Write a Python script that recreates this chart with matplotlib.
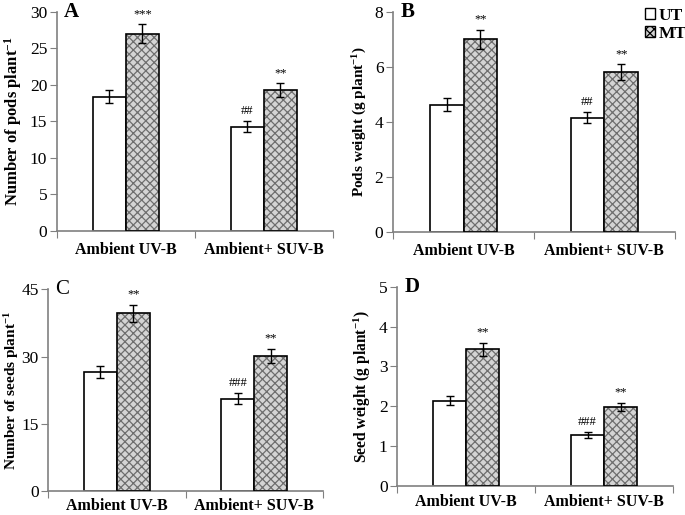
import matplotlib
matplotlib.use("Agg")
import matplotlib.pyplot as plt
import numpy as np
from matplotlib.patches import Patch

plt.rcParams['font.family'] = ['Liberation Serif', 'DejaVu Serif']
plt.rcParams['mathtext.fontset'] = 'custom'
plt.rcParams['mathtext.rm'] = 'Liberation Serif:bold'
plt.rcParams['mathtext.default'] = 'rm'
plt.rcParams['hatch.linewidth'] = 0.9

# data
groups = ["Ambient UV-B", "Ambient+ SUV-B"]

pods_ut = [18.4, 14.3]
pods_mt = [27.0, 19.3]
pods_ut_err = [0.9, 0.7]
pods_mt_err = [1.3, 0.9]

podw_ut = [4.62, 4.15]
podw_mt = [7.0, 5.81]
podw_ut_err = [0.23, 0.2]
podw_mt_err = [0.35, 0.28]

seeds_ut = [26.5, 20.6]
seeds_mt = [39.6, 30.1]
seeds_ut_err = [1.3, 1.2]
seeds_mt_err = [2.0, 1.6]

seedw_ut = [2.14, 1.28]
seedw_mt = [3.43, 1.99]
seedw_ut_err = [0.11, 0.07]
seedw_mt_err = [0.17, 0.1]

# significance marks
pods_ut_sig = ["", "##"]
pods_mt_sig = ["***", "**"]
podw_ut_sig = ["", "##"]
podw_mt_sig = ["**", "**"]
seeds_ut_sig = ["", "###"]
seeds_mt_sig = ["**", "**"]
seedw_ut_sig = ["", "###"]
seedw_mt_sig = ["**", "**"]

axis_gray = '#808080'
mt_face = '#d4d4d4'
mt_hatch = '#6e6e6e'
width = 0.24


def draw_panel(ax, ut, mt, ut_err, mt_err, ut_sig, mt_sig, ymax, step, ylabel, letter,
               letter_bold=True, ylabel_size=12, ytick_size=12.5, xpad=8):
    x = np.arange(len(groups))
    xu = x - width / 2
    xm = x + width / 2
    # untreated: white
    ax.bar(xu, ut, width, color='white', edgecolor='black', linewidth=1.2, zorder=2)
    # treated: light gray with gray hatch, then black outline
    ax.bar(xm, mt, width, color=mt_face, edgecolor=mt_hatch, hatch='xxxx', linewidth=0, zorder=2)
    ax.bar(xm, mt, width, fill=False, edgecolor='black', linewidth=1.2, zorder=3)
    ax.errorbar(xu, ut, yerr=ut_err, fmt='none', ecolor='black', elinewidth=1, capsize=3, zorder=4)
    ax.errorbar(xm, mt, yerr=mt_err, fmt='none', ecolor='black', elinewidth=1, capsize=3, zorder=4)
    for xi, v, e, s in zip(xu, ut, ut_err, ut_sig):
        if s:
            ax.annotate(s, (xi, v + e), xytext=(0, 3), textcoords='offset points',
                        ha='center', va='bottom', fontsize=9)
    for xi, v, e, s in zip(xm, mt, mt_err, mt_sig):
        if s:
            ax.annotate(s, (xi, v + e), xytext=(0, 3), textcoords='offset points',
                        ha='center', va='bottom', fontsize=9)

    ax.set_xlim(-0.5, len(groups) - 0.5)
    ax.set_ylim(0, ymax)
    ax.set_yticks(np.arange(0, ymax + step / 2, step))
    ax.set_xticks(np.arange(-0.5, len(groups), 1.0))
    ax.set_xticklabels([])
    ax.set_xticks(x, minor=True)
    ax.set_xticklabels(groups, minor=True, fontsize=11.5, fontweight='bold')
    ax.tick_params(axis='x', which='minor', length=0, pad=xpad)
    ax.tick_params(axis='x', which='major', length=5, color=axis_gray, direction='out')
    ax.tick_params(axis='y', length=5, color=axis_gray, labelsize=ytick_size, pad=2)
    for sp in ['top', 'right']:
        ax.spines[sp].set_visible(False)
    for sp in ['left', 'bottom']:
        ax.spines[sp].set_color(axis_gray)
        ax.spines[sp].set_linewidth(1.2)
    ax.set_ylabel(ylabel, fontsize=ylabel_size, fontweight='bold', labelpad=4)
    ax.text(0.025, 1.0, letter, transform=ax.transAxes, fontsize=15,
            fontweight='bold' if letter_bold else 'normal', ha='left', va='center')


fig = plt.figure(figsize=(6.85, 5.15), dpi=100)
axA = fig.add_axes([0.083, 0.5515, 0.403, 0.4255])
axB = fig.add_axes([0.574, 0.550, 0.411, 0.427])
axC = fig.add_axes([0.0705, 0.0466, 0.401, 0.3917])
axD = fig.add_axes([0.58, 0.0563, 0.4025, 0.3870])

draw_panel(axA, pods_ut, pods_mt, pods_ut_err, pods_mt_err, pods_ut_sig, pods_mt_sig,
           30, 5, r'Number of pods plant$^{-1}$', 'A')
draw_panel(axB, podw_ut, podw_mt, podw_ut_err, podw_mt_err, podw_ut_sig, podw_mt_sig,
           8, 2, r'Pods weight (g plant$^{-1}$)', 'B', ylabel_size=11)
draw_panel(axC, seeds_ut, seeds_mt, seeds_ut_err, seeds_mt_err, seeds_ut_sig, seeds_mt_sig,
           45, 15, r'Number of seeds plant$^{-1}$', 'C', letter_bold=False,
           ylabel_size=11, ytick_size=12.5, xpad=5)
draw_panel(axD, seedw_ut, seedw_mt, seedw_ut_err, seedw_mt_err, seedw_ut_sig, seedw_mt_sig,
           5, 1, r'Seed weight (g plant$^{-1}$)', 'D', ylabel_size=11.2, xpad=6)

# keep panel C label inside the figure
axC.yaxis.set_label_coords(-0.098, 0.5)

handles = [Patch(facecolor='white', edgecolor='black', label='UT'),
           Patch(facecolor=mt_face, edgecolor='black', hatch='xxxx', label='MT')]
fig.legend(handles=handles, loc='upper right', bbox_to_anchor=(1.025, 1.015), frameon=False,
           handlelength=0.6, handleheight=0.6, handletextpad=0.2, labelspacing=0.1,
           prop={'family': 'Liberation Serif', 'weight': 'bold', 'size': 12.5})

fig.savefig('out.png', dpi=100)
